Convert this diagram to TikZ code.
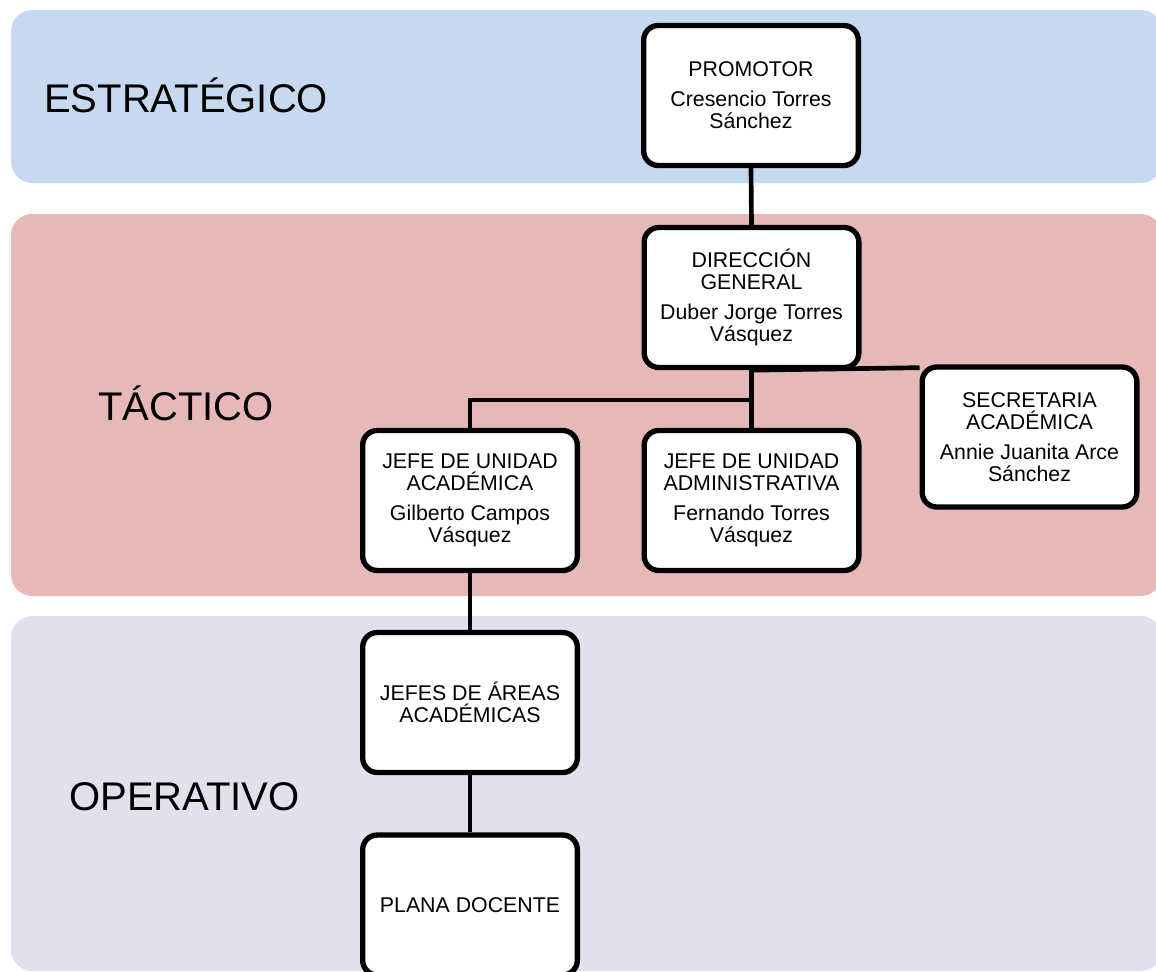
\documentclass[tikz,border=0pt]{standalone}
\usepackage{fontspec}
\setmainfont{Liberation Sans}
\definecolor{bandblue}{HTML}{C6D9F0}
\definecolor{bandred}{HTML}{E6B8B8}
\definecolor{bandpurple}{HTML}{E4DFEC}
\pgfdeclarelayer{bandlayer}
\pgfdeclarelayer{linklayer}
\pgfsetlayers{bandlayer,linklayer,main}
\tikzset{
  band/.style={rounded corners=16pt, draw=none},
  bandlabel/.style={font=\fontsize{30}{33}\selectfont, anchor=west, inner sep=0pt},
  orgbox/.style={draw=black, fill=white, line width=4pt, rounded corners=11pt,
    minimum width=161pt, minimum height=105pt, align=center, inner sep=2pt,
    font=\fontsize{16}{17}\selectfont},
  link/.style={draw=black, line width=3.5pt}
}
\begin{document}
\begin{tikzpicture}[x=0.75pt,y=-0.75pt]
\useasboundingbox (0,0) rectangle (1156,971);
\clip (0,0) rectangle (1156,971);
% bands
\begin{pgfonlayer}{bandlayer}
\fill[bandblue, band] (11,10) rectangle (1162,183);
\fill[bandred, band] (11,214) rectangle (1162,596);
\fill[bandpurple, band] (11,616) rectangle (1162,971);
\end{pgfonlayer}
\node[bandlabel] (lblE) at (44,95) {ESTRATÉGICO};
\node[bandlabel] (lblT) at (98,403) {TÁCTICO};
\node[bandlabel] (lblO) at (69,797) {OPERATIVO};
% nodes
\node[orgbox] (prom) at (751,95.5) {PROMOTOR\\[5pt]Cresencio Torres\\Sánchez};
\node[orgbox] (dir) at (751.5,297.5) {DIRECCIÓN\\GENERAL\\[5pt]Duber Jorge Torres\\Vásquez};
\node[orgbox] (sec) at (1029.5,437) {SECRETARIA\\ACADÉMICA\\[5pt]Annie Juanita Arce\\Sánchez};
\node[orgbox] (jua) at (470,500.5) {JEFE DE UNIDAD\\ACADÉMICA\\[5pt]Gilberto Campos\\Vásquez};
\node[orgbox] (jad) at (751.5,500.5) {JEFE DE UNIDAD\\ADMINISTRATIVA\\[5pt]Fernando Torres\\Vásquez};
\node[orgbox] (area) at (470,702.5) {JEFES DE ÁREAS\\ACADÉMICAS};
\node[orgbox] (plana) at (470,905) {PLANA DOCENTE};
\coordinate (hub) at (751.5,400);
\coordinate (secin) at ([yshift=-2.5pt]sec.north west);
% connectors (behind boxes)
\begin{pgfonlayer}{linklayer}
\path[link] (prom.south) -- (dir.north);
\path[link] (dir.south) -- (jad.north);
\path[link] (hub) -| (jua.north);
\path[link] (dir.south) -- (secin);
\path[link] (jua.south) -- (area.north);
\path[link] (area.south) -- (plana.north);
\end{pgfonlayer}
\end{tikzpicture}
\end{document}
